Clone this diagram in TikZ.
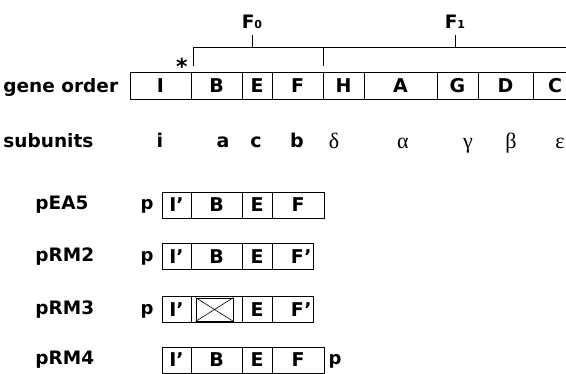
\documentclass[tikz,border=0pt]{standalone}
\usepackage{fontspec}
\setmainfont{DejaVu Sans}
\newfontfamily\greekfont{Liberation Serif}
\usetikzlibrary{positioning}

\tikzset{
	gene/.style={draw, rectangle, inner sep=0pt, outer sep=0pt, minimum height=26pt,
		font=\bfseries\fontsize{19}{20}\selectfont},
	gcut/.style={gene, text width=38pt, align=right},
	rowlbl/.style={anchor=base west, inner sep=0pt, font=\bfseries\fontsize{18.5}{20}\selectfont},
	subu/.style={anchor=base, inner sep=0pt, font=\bfseries\fontsize{19}{20}\selectfont},
	grk/.style={anchor=base, inner sep=0pt, font=\greekfont\fontsize{22}{22}\selectfont},
	prom/.style={anchor=base, inner sep=0pt, font=\bfseries\fontsize{18}{20}\selectfont},
	fsub/.style={anchor=base, inner sep=0pt, font=\bfseries\fontsize{18.5}{20}\selectfont},
}

\begin{document}
\begin{tikzpicture}[x=1pt, y=-1pt, line width=0.9pt]
	\clip (0,0) rectangle (566,373);

	% F0 / F1 bracket
	\node[fsub] (F0) at (252,28) {F{\fontsize{11}{11}\selectfont 0}};
	\node[fsub] (F1) at (455,28) {F{\fontsize{11}{11}\selectfont 1}};
	\coordinate (t0) at (252,35);
	\coordinate (t1) at (455,35);
	\coordinate (brL) at (193,47);
	\coordinate (brR) at (570,47);
	\draw (193,66) -- (brL) -- (brR);
	\draw (323,47) -- (323,66);
	\draw (t0) -- (t0 |- brL);
	\draw (t1) -- (t1 |- brL);
	\node[inner sep=0pt, font=\bfseries\fontsize{22}{22}\selectfont] (star) at (182,66) {*};

	% gene order
	\node[rowlbl] (gl) at (3,92) {gene order};
	\node[gene, minimum height=27pt, minimum width=61pt, anchor=west] (gI) at (130,85.5) {I};
	\node[gene, minimum height=27pt, minimum width=51pt, right=0pt of gI] (gB) {B};
	\node[gene, minimum height=27pt, minimum width=30pt, right=0pt of gB] (gE) {E};
	\node[gene, minimum height=27pt, minimum width=51pt, right=0pt of gE] (gF) {F};
	\node[gene, minimum height=27pt, minimum width=41pt, right=0pt of gF] (gH) {H};
	\node[gene, minimum height=27pt, minimum width=73pt, right=0pt of gH] (gA) {A};
	\node[gene, minimum height=27pt, minimum width=41pt, right=0pt of gA] (gG) {G};
	\node[gene, minimum height=27pt, minimum width=55pt, right=0pt of gG] (gD) {D};
	\node[gene, minimum height=27pt, minimum width=44pt, right=0pt of gD] (gC) {C};

	% subunits
	\node[rowlbl] (sl) at (3,147) {subunits};
	\node[subu] (si) at (160,147) {i};
	\node[subu] (sa) at (223,147) {a};
	\node[subu] (sc) at (256,147) {c};
	\node[subu] (sb) at (297,147) {b};
	\node[grk] (sdelta) at (334,148) {δ};
	\node[grk] (salpha) at (403,148) {α};
	\node[grk] (sgamma) at (468,148) {γ};
	\node[grk] (sbeta) at (511,148) {β};
	\node[grk] (seps) at (560,148) {ε};

	% pEA5
	\node[rowlbl] (eal) at (35,209) {pEA5};
	\node[prom] (eap) at (147,209) {p};
	\node[gene, minimum width=29pt, anchor=west] (eaI) at (162,205) {I’};
	\node[gene, minimum width=51pt, right=0pt of eaI] (eaB) {B};
	\node[gene, minimum width=30pt, right=0pt of eaB] (eaE) {E};
	\node[gene, minimum width=52pt, right=0pt of eaE] (eaF) {F};

	% pRM2
	\node[rowlbl] (r2l) at (35,261) {pRM2};
	\node[prom] (r2p) at (147,261) {p};
	\node[gene, minimum width=29pt, anchor=west] (r2I) at (162,256.5) {I’};
	\node[gene, minimum width=51pt, right=0pt of r2I] (r2B) {B};
	\node[gene, minimum width=30pt, right=0pt of r2B] (r2E) {E};
	\node[gcut, minimum width=41pt, right=0pt of r2E] (r2F) {F’};

	% pRM3
	\node[rowlbl] (r3l) at (35,314) {pRM3};
	\node[prom] (r3p) at (147,314) {p};
	\node[gene, minimum width=29pt, anchor=west] (r3I) at (162,309.5) {I’};
	\node[gene, minimum width=51pt, right=0pt of r3I] (r3B) {};
	\node[gene, minimum width=30pt, right=0pt of r3B] (r3E) {E};
	\node[gcut, minimum width=41pt, right=0pt of r3E] (r3F) {F’};
	\node[draw, inner sep=0pt, minimum width=37pt, minimum height=23pt] (r3X) at (214.5,309.5) {};
	\draw[line width=0.6pt] (r3X.north west) -- (r3X.south east)
		(r3X.south west) -- (r3X.north east);

	% pRM4
	\node[rowlbl] (r4l) at (35,364) {pRM4};
	\node[gene, minimum width=29pt, anchor=west] (r4I) at (162,360) {I’};
	\node[gene, minimum width=51pt, right=0pt of r4I] (r4B) {B};
	\node[gene, minimum width=30pt, right=0pt of r4B] (r4E) {E};
	\node[gene, minimum width=52pt, right=0pt of r4E] (r4F) {F};
	\node[prom] (r4p) at (335,364) {p};
\end{tikzpicture}
\end{document}
